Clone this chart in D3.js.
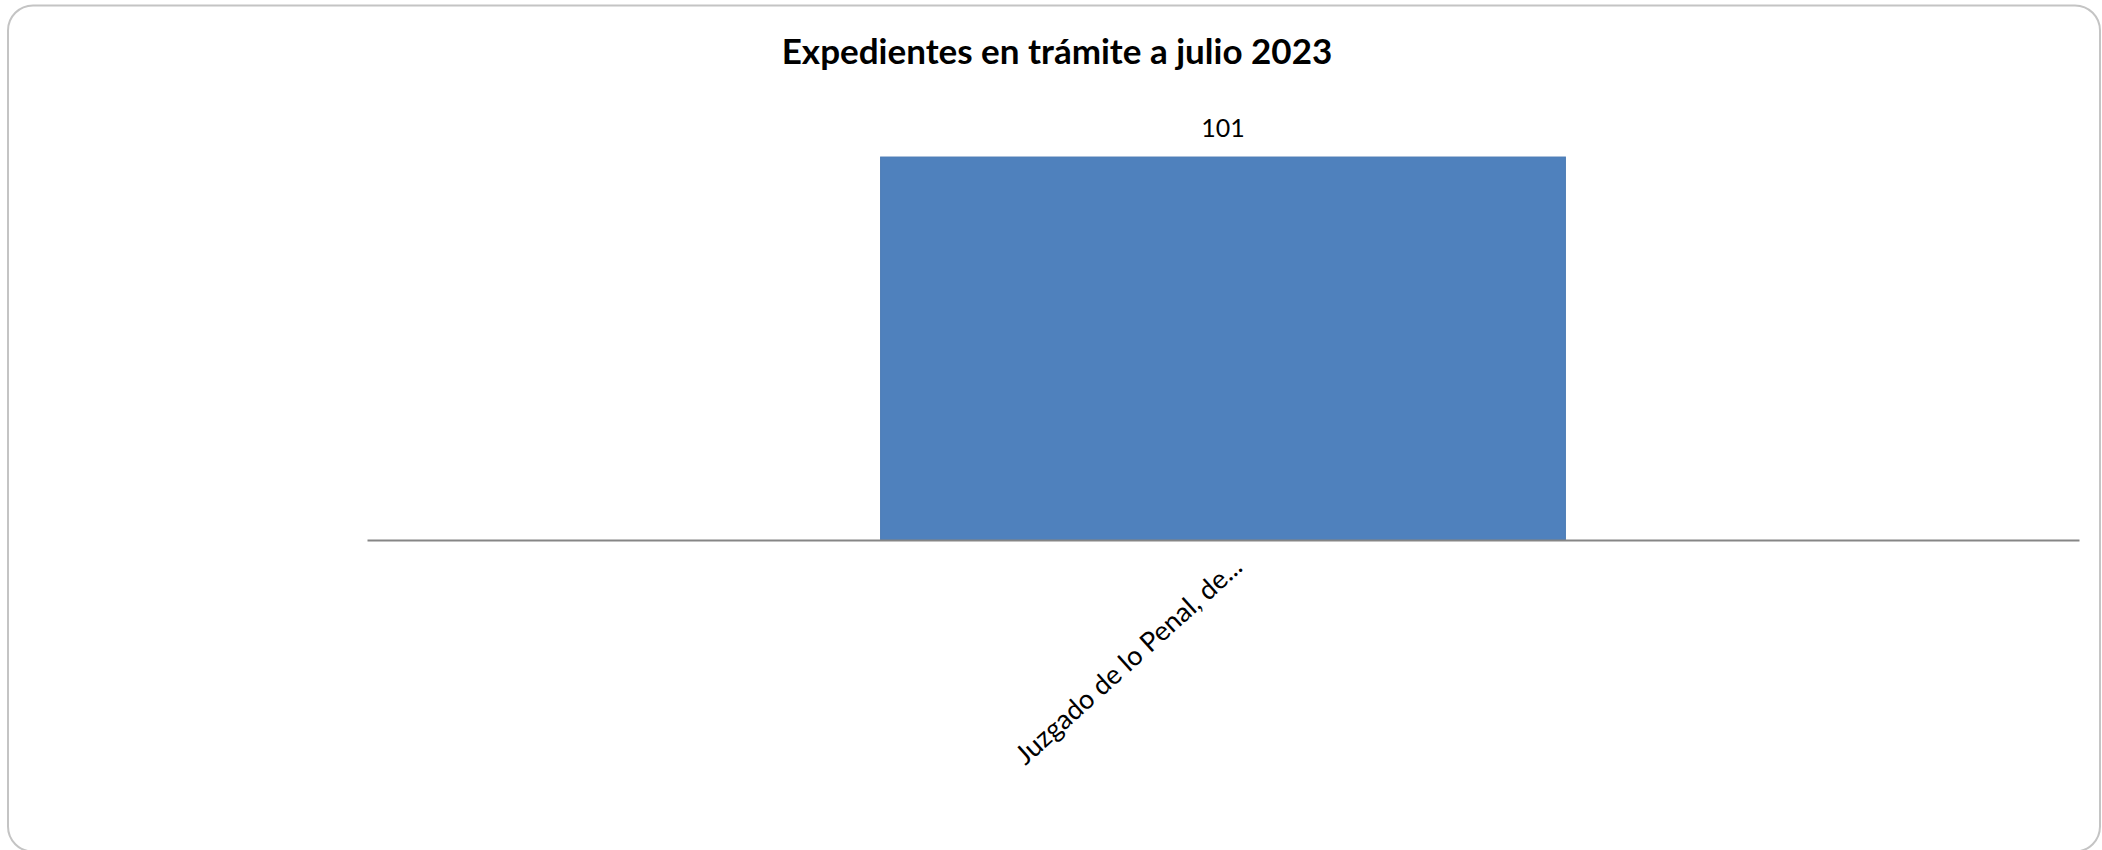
<!DOCTYPE html>
<html>
<head>
<meta charset="utf-8">
<script src="https://cdn.jsdelivr.net/npm/d3@7"></script>
<style>
  body { margin: 0; background: #fff; }
  svg { display: block; }
</style>
</head>
<body>
<div id="chart"></div>
<script>
// Chart data
var categories = ["Juzgado de lo Penal, de..."];
var values = [101];
var title = "Expedientes en trámite a julio 2023";

var width = 2102, height = 850;
var margin = { left: 367, right: 23, top: 85, bottom: 310 };
var plot_width = width - margin.left - margin.right;
var plot_height = height - margin.top - margin.bottom;

var svg = d3.select("#chart")
  .append("svg")
  .attr("width", width)
  .attr("height", height);

// Rounded frame of the chart area
svg.append("rect")
  .attr("x", 8)
  .attr("y", 5.5)
  .attr("width", 2092)
  .attr("height", 846)
  .attr("rx", 25)
  .attr("fill", "#fff")
  .attr("stroke", "#c4c4c4")
  .attr("stroke-width", 2);

svg.append("text")
  .attr("x", 1057)
  .attr("y", 64)
  .attr("text-anchor", "middle")
  .attr("font-family", "Lato, sans-serif")
  .attr("font-weight", "bold")
  .attr("font-size", 35)
  .attr("fill", "#000")
  .text(title);

var g = svg.append("g")
  .attr("transform", "translate(" + margin.left + "," + margin.top + ")");

var x = d3.scaleBand()
  .domain(categories)
  .range([0, plot_width])
  .paddingInner(0.6)
  .paddingOuter(0.3);

var y = d3.scaleLinear()
  .domain([0, 120])
  .range([plot_height, 0]);

// Bars
g.selectAll("rect.bar")
  .data(values)
  .enter()
  .append("rect")
  .attr("class", "bar")
  .attr("x", function(d, i) { return x(categories[i]); })
  .attr("y", function(d) { return y(d); })
  .attr("width", x.bandwidth())
  .attr("height", function(d) { return plot_height - y(d); })
  .attr("fill", "#4f81bd")
  .attr("stroke", "#4a7ab3")
  .attr("stroke-width", 1);

// Value labels above bars
g.selectAll("text.value")
  .data(values)
  .enter()
  .append("text")
  .attr("class", "value")
  .attr("x", function(d, i) { return x(categories[i]) + x.bandwidth() / 2; })
  .attr("y", function(d) { return y(d) - 20; })
  .attr("text-anchor", "middle")
  .attr("font-family", "Lato, sans-serif")
  .attr("font-size", 25)
  .attr("fill", "#000")
  .text(function(d) { return d; });

// Category axis, no ticks
var xAxis = g.append("g")
  .attr("transform", "translate(0," + plot_height + ")")
  .call(d3.axisBottom(x).tickSize(0).tickSizeOuter(0));

xAxis.select(".domain")
  .attr("stroke", "#868686")
  .attr("stroke-width", 2);

xAxis.selectAll("text")
  .attr("font-family", "Lato, sans-serif")
  .attr("font-size", 27)
  .attr("fill", "#000")
  .attr("text-anchor", "end")
  .attr("dy", 0)
  .attr("transform", "translate(19,27) rotate(-42)");
</script>
</body>
</html>
